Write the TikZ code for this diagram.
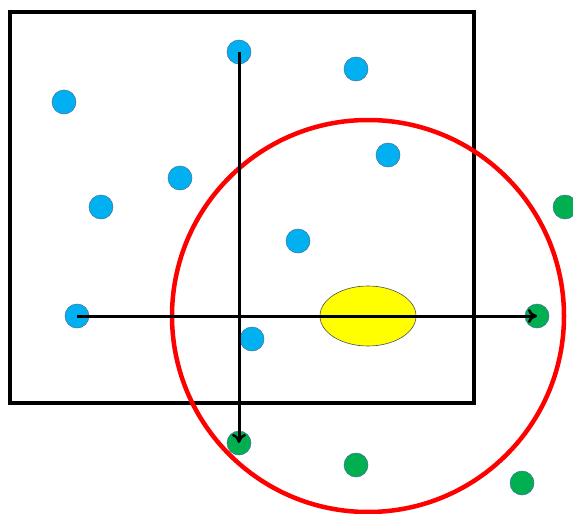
\documentclass[tikz,border=0pt]{standalone}
\usetikzlibrary{arrows.meta,shapes.geometric}
\definecolor{dotblue}{HTML}{00B0F0}
\definecolor{dotgreen}{HTML}{00B050}
\definecolor{dotedge}{HTML}{41719C}
\definecolor{ellyellow}{HTML}{FFFF00}
\begin{document}
\begin{tikzpicture}[x=1pt,y=-1pt,
  bdot/.style={circle,fill=dotblue,draw=dotedge,line width=0.5pt,minimum size=24pt,inner sep=0pt},
  gdot/.style={circle,fill=dotgreen,draw=dotedge,line width=0.5pt,minimum size=24pt,inner sep=0pt},
  axis/.style={line width=3pt,-{To[length=9pt,width=14pt,line width=2.5pt]}}]
\useasboundingbox (0,0) rectangle (573,514);
\draw[line width=4.5pt] (10,12) rectangle (474,403);
\draw[red,line width=4.5pt] (368,316) circle[radius=196];
\node[ellipse,draw=black!70,line width=0.6pt,fill=ellyellow,minimum width=96pt,minimum height=60pt,inner sep=0pt] (ell) at (368,316) {};
\node[bdot] (b1) at (239,52) {};
\node[bdot] (b2) at (356,69) {};
\node[bdot] (b3) at (64,102) {};
\node[bdot] (b4) at (388,155) {};
\node[bdot] (b5) at (180,178) {};
\node[bdot] (b6) at (101,207) {};
\node[bdot] (b7) at (298,241) {};
\node[bdot] (b8) at (77,316) {};
\node[bdot] (b9) at (252,339) {};
\node[gdot] (g1) at (565,207) {};
\node[gdot] (g2) at (537,316) {};
\node[gdot] (g3) at (239,443) {};
\node[gdot] (g4) at (356,465) {};
\node[gdot] (g5) at (522,483) {};
\draw[axis] (b1.center) -- (g3.center);
\draw[axis] (b8.center) -- (g2.center);
\end{tikzpicture}
\end{document}
